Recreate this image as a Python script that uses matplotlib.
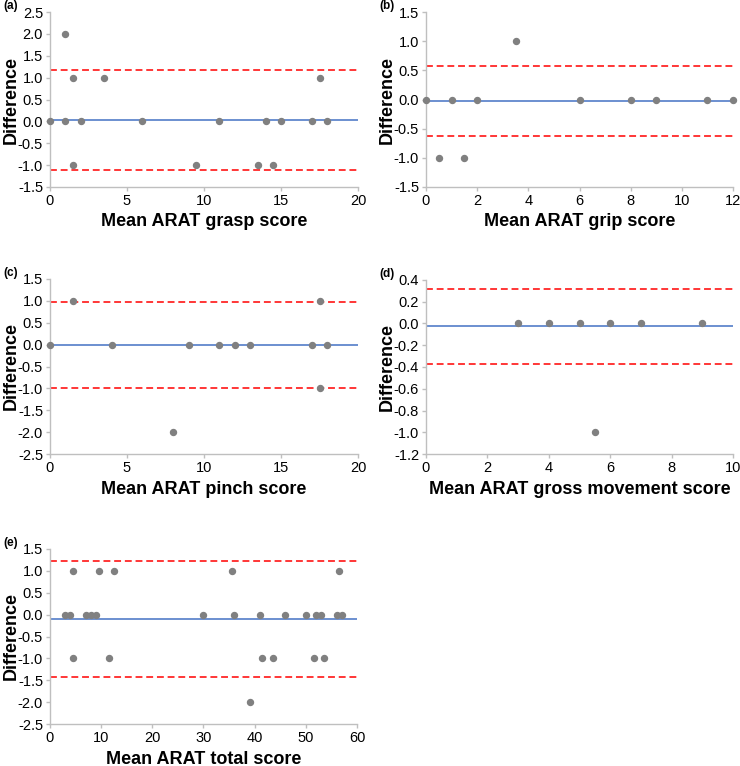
import matplotlib
matplotlib.use("Agg")
import matplotlib.pyplot as plt
import numpy as np

plt.rcParams['font.family'] = ['Liberation Sans', 'DejaVu Sans']

# Panel (a) grasp
a_x = [0, 1, 1, 1.5, 1.5, 2, 3.5, 6, 9.5, 11, 13.5, 14, 14.5, 15, 17, 17.5, 18]
a_y = [0, 2, 0, 1, -1, 0, 1, 0, -1, 0, -1, 0, -1, 0, 0, 1, 0]
a_mean, a_up, a_lo = 0.03, 1.18, -1.12

# Panel (b) grip
b_x = [0, 0.5, 1, 1.5, 2, 3.5, 6, 8, 9, 11, 12]
b_y = [0, -1, 0, -1, 0, 1, 0, 0, 0, 0, 0]
b_mean, b_up, b_lo = -0.03, 0.57, -0.63

# Panel (c) pinch
c_x = [0, 1.5, 4, 8, 9, 11, 12, 13, 17, 17.5, 17.5, 18]
c_y = [0, 1, 0, -2, 0, 0, 0, 0, 0, 1, -1, 0]
c_mean, c_up, c_lo = 0.0, 0.98, -0.98

# Panel (d) gross movement
d_x = [3, 4, 5, 5.5, 6, 7, 9]
d_y = [0, 0, 0, -1, 0, 0, 0]
d_mean, d_up, d_lo = -0.027, 0.314, -0.368

# Panel (e) total
e_x = [3, 4, 4.5, 4.5, 7, 8, 9, 9.5, 11.5, 12.5, 30, 35.5, 36, 39, 41, 41.5, 43.5,
       46, 50, 51.5, 52, 53, 53.5, 56, 56.5, 57]
e_y = [0, 0, 1, -1, 0, 0, 0, 1, -1, 1, 0, 1, 0, -2, 0, -1, -1,
       0, 0, -1, 0, 0, -1, 0, 1, 0]
e_mean, e_up, e_lo = -0.09, 1.235, -1.415

W, H = 740, 766
fig = plt.figure(figsize=(W / 100, H / 100), dpi=100)

def px_axes(left, right, top, bottom):
    return fig.add_axes([left / W, 1 - bottom / H, (right - left) / W, (bottom - top) / H])

spine_col = '#BFBFBF'

def panel(ax, xs, ys, mean, up, lo, xlim, xstep, ylim, ystep, xlabel, tag):
    ax.axhline(mean, color='#4472C4', lw=1.1, zorder=2)
    ax.axhline(up, color='#FF0000', lw=1.1, ls=(0, (4.5, 2.5)), zorder=2)
    ax.axhline(lo, color='#FF0000', lw=1.1, ls=(0, (4.5, 2.5)), zorder=2)
    ax.plot(xs, ys, 'o', color='#808080', ms=4.3, mec='#808080', zorder=3, clip_on=False)
    ax.set_xlim(*xlim)
    ax.set_ylim(*ylim)
    ax.set_xticks(np.arange(xlim[0], xlim[1] + 1e-9, xstep))
    yt = np.round(np.arange(ylim[0], ylim[1] + 1e-9, ystep), 3)
    ax.set_yticks(yt)
    ax.set_yticklabels(['{:.1f}'.format(float(v) + 0.0) for v in yt])
    for s in ['top', 'right']:
        ax.spines[s].set_visible(False)
    for s in ['left', 'bottom']:
        ax.spines[s].set_color(spine_col)
        ax.spines[s].set_linewidth(1.0)
    ax.tick_params(axis='both', colors=spine_col, labelcolor='#000000', labelsize=10.5,
                   length=3, width=1.0, direction='out', pad=2)
    ax.set_ylabel('Difference', fontsize=13, fontweight='bold')
    ax.yaxis.set_label_coords(-0.097, 0.5)
    ax.set_xlabel(xlabel, fontsize=13, fontweight='bold', labelpad=4)
    ax.text(-0.152, 1.0, tag, transform=ax.transAxes, fontsize=8.5, fontweight='bold',
            ha='left', va='bottom')

ax_a = px_axes(50, 358, 12, 187)
panel(ax_a, a_x, a_y, a_mean, a_up, a_lo, (0, 20), 5, (-1.5, 2.5), 0.5,
      'Mean ARAT grasp score', '(a)')
ax_b = px_axes(426, 733, 12, 187)
panel(ax_b, b_x, b_y, b_mean, b_up, b_lo, (0, 12), 2, (-1.5, 1.5), 0.5,
      'Mean ARAT grip score', '(b)')
ax_c = px_axes(50, 358, 279, 454)
panel(ax_c, c_x, c_y, c_mean, c_up, c_lo, (0, 20), 5, (-2.5, 1.5), 0.5,
      'Mean ARAT pinch score', '(c)')
ax_d = px_axes(426, 733, 280, 454)
panel(ax_d, d_x, d_y, d_mean, d_up, d_lo, (0, 10), 2, (-1.2, 0.4), 0.2,
      'Mean ARAT gross movement score', '(d)')
ax_e = px_axes(50, 357, 549, 724)
panel(ax_e, e_x, e_y, e_mean, e_up, e_lo, (0, 60), 10, (-2.5, 1.5), 0.5,
      'Mean ARAT total score', '(e)')

fig.savefig('out.png', dpi=100)
